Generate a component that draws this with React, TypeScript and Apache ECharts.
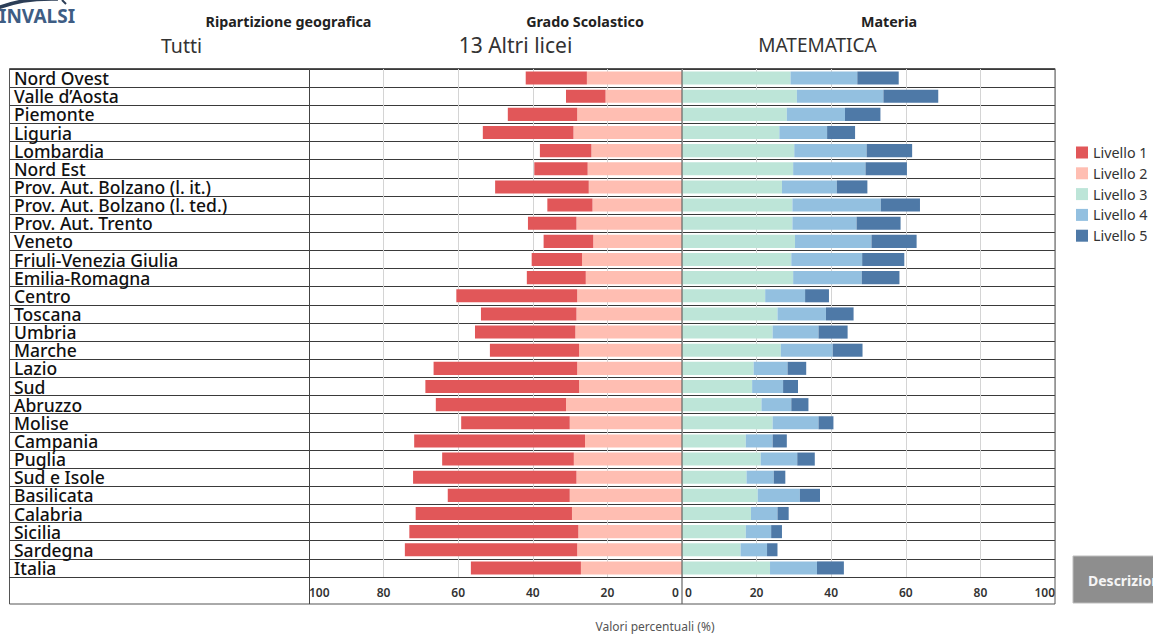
import React, { useEffect, useRef } from "react";
import * as echarts from "echarts";

const categories = [
  "Nord Ovest", "Valle d’Aosta", "Piemonte", "Liguria", "Lombardia", "Nord Est",
  "Prov. Aut. Bolzano (l. it.)", "Prov. Aut. Bolzano (l. ted.)", "Prov. Aut. Trento",
  "Veneto", "Friuli-Venezia Giulia", "Emilia-Romagna", "Centro", "Toscana", "Umbria",
  "Marche", "Lazio", "Sud", "Abruzzo", "Molise", "Campania", "Puglia", "Sud e Isole",
  "Basilicata", "Calabria", "Sicilia", "Sardegna", "Italia",
];

const livello1 = [16.4, 10.6, 18.6, 24.3, 13.8, 14.3, 25.1, 12.1, 13.0, 13.3, 13.5, 15.8, 32.4, 25.6, 26.9, 23.9, 38.5, 41.2, 34.9, 29.1, 45.8, 35.3, 43.8, 32.7, 41.9, 45.3, 46.2, 29.5];
const livello2 = [25.5, 20.5, 28.1, 29.1, 24.3, 25.3, 25.0, 24.0, 28.3, 23.8, 26.8, 25.8, 28.1, 28.3, 28.6, 27.6, 28.1, 27.6, 31.1, 30.1, 26.0, 29.0, 28.3, 30.1, 29.5, 27.8, 28.1, 27.1];
const livello3 = [29.1, 30.8, 28.1, 26.1, 30.1, 29.8, 26.8, 29.6, 29.6, 30.3, 29.3, 29.8, 22.3, 25.6, 24.3, 26.5, 19.2, 18.8, 21.3, 24.3, 17.1, 21.1, 17.3, 20.3, 18.5, 17.1, 15.7, 23.6];
const livello4 = [17.9, 23.2, 15.6, 12.8, 19.4, 19.4, 14.7, 23.7, 17.2, 20.5, 19.0, 18.4, 10.7, 13.0, 12.3, 13.9, 9.1, 8.3, 8.0, 12.3, 7.2, 9.8, 7.3, 11.3, 7.1, 6.8, 7.1, 12.6];
const livello5 = [11.1, 14.7, 9.5, 7.5, 12.2, 11.1, 8.2, 10.5, 11.8, 12.1, 11.3, 10.1, 6.4, 7.4, 7.8, 8.0, 5.0, 4.0, 4.6, 4.0, 3.8, 4.7, 3.1, 5.4, 3.0, 2.9, 2.8, 7.2];

const levelNames = ["Livello 1", "Livello 2", "Livello 3", "Livello 4", "Livello 5"];
const colors = ["#e15759", "#ffbeb2", "#bde5d8", "#93c0e0", "#4e79a7"];

const FONT = "'Noto Sans', 'Open Sans', sans-serif";

export default function App() {
  const ref = useRef<HTMLDivElement>(null);

  useEffect(() => {
    document.body.style.margin = "0";
    const chart = echarts.init(ref.current!, null, { renderer: "svg" });

    const top = 69;
    const height = 508;
    const lineColor = "#3a3a3a";

    const tickLabel = {
      fontFamily: FONT,
      fontSize: 12,
      fontWeight: 600,
      color: "#333",
      margin: 9,
    };

    const valueAxisBase = {
      type: "value",
      min: 0,
      max: 100,
      interval: 20,
      axisLine: { show: false },
      axisTick: { show: false },
      splitLine: { show: true, lineStyle: { color: "#d4d4d4", width: 1 } },
    };

    const catAxisBase = {
      type: "category",
      data: categories,
      inverse: true,
      axisLine: { show: false },
      axisTick: { show: false },
      splitLine: { show: true, interval: 0, lineStyle: { color: lineColor, width: 1 } },
    };

    const barBase = {
      type: "bar",
      barCategoryGap: "28%",
      emphasis: { disabled: true },
    };

    const option: any = {
      animation: false,
      textStyle: { fontFamily: FONT },
      grid: [
        { left: 309, width: 373, top, height, containLabel: false, outerBoundsMode: "none" },
        { left: 682, width: 373, top, height, containLabel: false, outerBoundsMode: "none" },
        { left: 9, width: 300, top, height, containLabel: false, outerBoundsMode: "none" },
      ],
      xAxis: [
        {
          ...valueAxisBase,
          gridIndex: 0,
          inverse: true,
          axisLabel: {
            ...tickLabel,
            alignMinLabel: "right",
            alignMaxLabel: "left",
            formatter: (v: number) => (v === 0 ? "0 " : String(v)),
          },
        },
        {
          ...valueAxisBase,
          gridIndex: 1,
          axisLabel: {
            ...tickLabel,
            alignMinLabel: "left",
            alignMaxLabel: "right",
            formatter: (v: number) => (v === 0 ? " 0" : String(v)),
          },
        },
        { type: "value", gridIndex: 2, show: false, min: 0, max: 1 },
      ],
      yAxis: [
        {
          ...catAxisBase,
          gridIndex: 0,
          axisLabel: {
            show: true,
            interval: 0,
            align: "left",
            margin: 295,
            fontFamily: FONT,
            fontSize: 17.5,
            lineHeight: 16,
            fontWeight: 500,
            color: "#111",
          },
        },
        { ...catAxisBase, gridIndex: 1, axisLabel: { show: false } },
        { ...catAxisBase, gridIndex: 2, axisLabel: { show: false } },
      ],
      legend: {
        orient: "vertical",
        left: 1076,
        top: 144,
        padding: 0,
        itemWidth: 12,
        itemHeight: 12,
        itemGap: 3.8,
        icon: "rect",
        data: levelNames,
        textStyle: { fontFamily: FONT, fontSize: 14.3, color: "#333", lineHeight: 17 },
        selectedMode: false,
      },
      series: [
        { ...barBase, name: levelNames[1], xAxisIndex: 0, yAxisIndex: 0, stack: "left", data: livello2, itemStyle: { color: colors[1] } },
        { ...barBase, name: levelNames[0], xAxisIndex: 0, yAxisIndex: 0, stack: "left", data: livello1, itemStyle: { color: colors[0] } },
        { ...barBase, name: levelNames[2], xAxisIndex: 1, yAxisIndex: 1, stack: "right", data: livello3, itemStyle: { color: colors[2] } },
        { ...barBase, name: levelNames[3], xAxisIndex: 1, yAxisIndex: 1, stack: "right", data: livello4, itemStyle: { color: colors[3] } },
        { ...barBase, name: levelNames[4], xAxisIndex: 1, yAxisIndex: 1, stack: "right", data: livello5, itemStyle: { color: colors[4] } },
      ],
      graphic: [
        // frame
        { type: "rect", z: 100, shape: { x: 9.5, y: 68.5, width: 1045.5, height: 535.5 }, style: { fill: "none", stroke: "#555", lineWidth: 1 } },
        { type: "line", z: 100, shape: { x1: 309.5, y1: 69, x2: 309.5, y2: 604 }, style: { stroke: "#444", lineWidth: 1 } },
        { type: "line", z: 100, shape: { x1: 682, y1: 69, x2: 682, y2: 604 }, style: { stroke: "#666", lineWidth: 1.2 } },
        { type: "line", z: 100, shape: { x1: 9, y1: 577.5, x2: 1055, y2: 577.5 }, style: { stroke: lineColor, lineWidth: 1 } },
        // logo
        { type: "bezierCurve", shape: { x1: -2, y1: 8, cpx1: 22, cpy1: -2, x2: 58, y2: -1 }, style: { stroke: "#2c3e57", lineWidth: 3.5, fill: "none" } },
        { type: "line", shape: { x1: 62, y1: 0, x2: 66, y2: 4 }, style: { stroke: "#2c3e57", lineWidth: 2 } },
        { type: "text", x: -1, y: 16, style: { text: "INVALSI", fontFamily: FONT, fontSize: 19, fontWeight: "bold", fill: "#3e5d84", textVerticalAlign: "middle" } },
        // headers
        { type: "text", x: 288.5, y: 21, style: { text: "Ripartizione geografica", fontFamily: FONT, fontSize: 14.3, fontWeight: "bold", fill: "#222", textAlign: "center", textVerticalAlign: "middle" } },
        { type: "text", x: 181.5, y: 45, style: { text: "Tutti", fontFamily: FONT, fontSize: 19.5, fill: "#333", textAlign: "center", textVerticalAlign: "middle" } },
        { type: "text", x: 585, y: 21, style: { text: "Grado Scolastico", fontFamily: FONT, fontSize: 14.3, fontWeight: "bold", fill: "#222", textAlign: "center", textVerticalAlign: "middle" } },
        { type: "text", x: 515.5, y: 45, style: { text: "13 Altri licei", fontFamily: FONT, fontSize: 21, fill: "#333", textAlign: "center", textVerticalAlign: "middle" } },
        { type: "text", x: 889, y: 21, style: { text: "Materia", fontFamily: FONT, fontSize: 14.3, fontWeight: "bold", fill: "#222", textAlign: "center", textVerticalAlign: "middle" } },
        { type: "text", x: 817.5, y: 45, style: { text: "MATEMATICA", fontFamily: FONT, fontSize: 19, fill: "#333", textAlign: "center", textVerticalAlign: "middle" } },
        // axis title
        { type: "text", x: 655, y: 626.5, style: { text: "Valori percentuali (%)", fontFamily: FONT, fontSize: 12, lineHeight: 13, fill: "#555", textAlign: "center", textVerticalAlign: "middle" } },
        // button
        { type: "rect", shape: { x: 1073, y: 556, width: 95, height: 47 }, style: { fill: "#8e8e8e", stroke: "#bdbdbd", lineWidth: 1 } },
        { type: "text", x: 1088, y: 580, style: { text: "Descrizione", fontFamily: FONT, fontSize: 14, fontWeight: "bold", fill: "#f5f5f5", textVerticalAlign: "middle" } },
      ],
    };

    chart.setOption(option);
    return () => chart.dispose();
  }, []);

  return (
    <div
      ref={ref}
      style={{ position: "fixed", left: 0, top: 0, width: 1153, height: 634, background: "#fff" }}
    />
  );
}
